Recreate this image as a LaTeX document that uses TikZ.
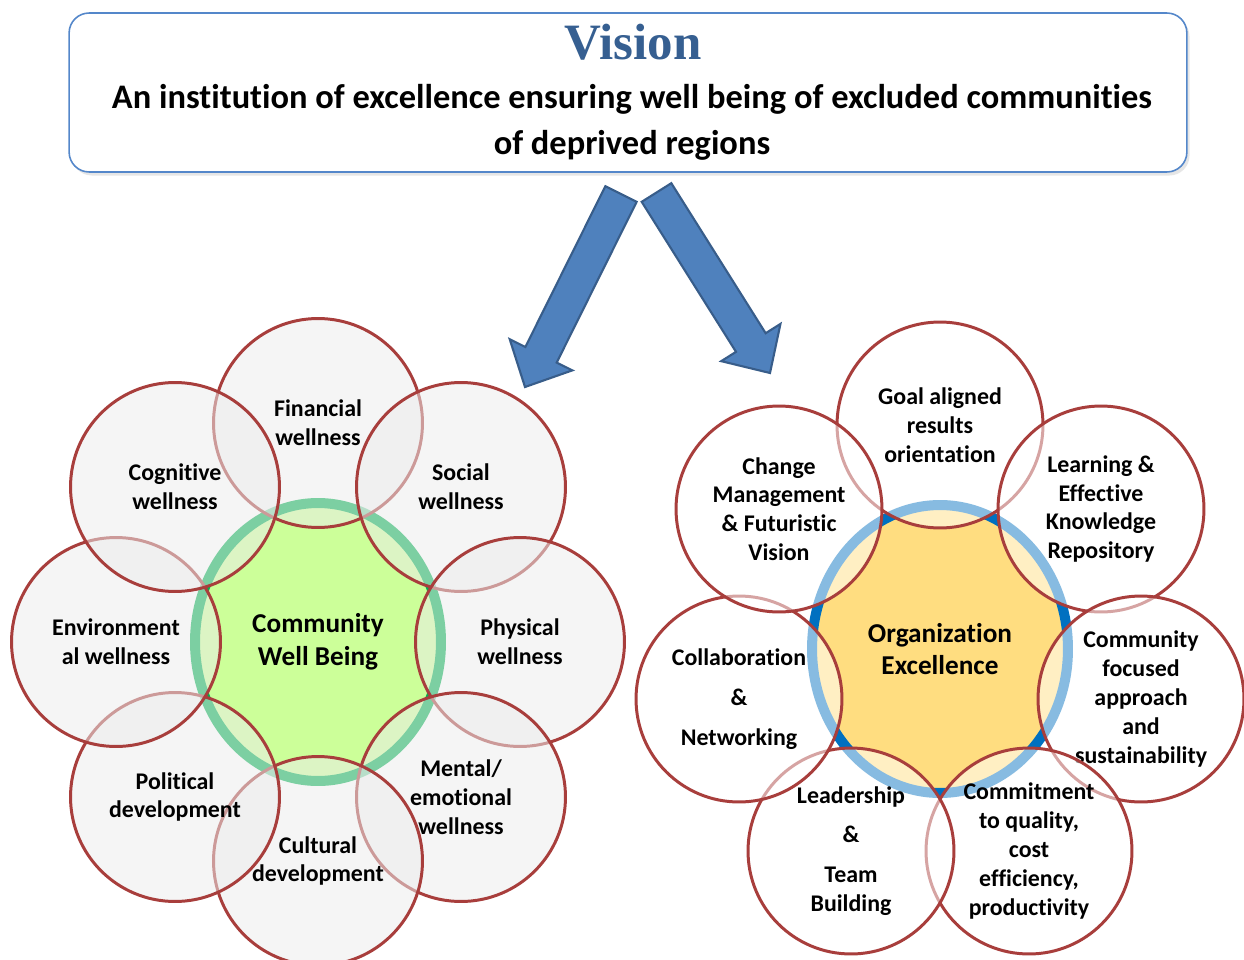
\documentclass[tikz,border=0pt]{standalone}
\usepackage{fontspec}
\setmainfont{Carlito}[Ligatures=NoCommon]
\newfontfamily\titlefont{Liberation Serif}
\usetikzlibrary{shapes.geometric,calc,shadows}

\definecolor{petalred}{RGB}{168,62,60}
\definecolor{petalgray}{RGB}{236,236,236}
\definecolor{wellgreen}{RGB}{204,255,153}
\definecolor{wellring}{RGB}{0,176,80}
\definecolor{orgyellow}{RGB}{255,221,128}
\definecolor{orgring}{RGB}{0,112,192}
\definecolor{arrowblue}{RGB}{79,129,189}
\definecolor{arrowedge}{RGB}{56,93,138}
\definecolor{boxblue}{RGB}{84,135,202}
\definecolor{visionblue}{RGB}{54,95,145}

\tikzset{
  petal/.style={circle, draw=petalred, line width=1.7pt, fill opacity=0.53,
    text opacity=1, inner sep=0pt, align=center,
    font=\fontsize{13.6}{16.4}\selectfont\bfseries},
  leftpetal/.style={petal, fill=petalgray, minimum size=4.18cm},
  rightpetal/.style={petal, fill=white, minimum size=4.12cm},
  hub/.style={ellipse, inner sep=0pt, line width=5.7pt, align=center,
    font=\fontsize{15.5}{18.7}\selectfont\bfseries},
  bigarrow/.style={fill=arrowblue, draw=arrowedge, line width=1.2pt, line join=miter},
}

% block arrow from #1 (tail) to #2 (tip)
\newcommand{\blockarrow}[2]{%
  \coordinate (#2-base) at ($(#2)!0.72cm!(#1)$);
  \draw[bigarrow] ($(#1)!0.35cm!90:(#2)$) -- ($(#2-base)!0.35cm!-90:(#1)$)
    -- ($(#2-base)!0.7cm!-90:(#1)$) -- (#2) -- ($(#2-base)!0.7cm!90:(#1)$)
    -- ($(#2-base)!0.35cm!90:(#1)$) -- ($(#1)!0.35cm!-90:(#2)$) -- cycle;
}

\begin{document}
\begin{tikzpicture}[x=0.02cm, y=-0.02cm]
  \useasboundingbox (0,0) rectangle (1244,960);

  % vision
  \node[draw=boxblue, line width=0.9pt, rounded corners=0.4cm, fill=white,
    minimum width=22.36cm, minimum height=3.18cm,
    drop shadow={shadow xshift=1.5pt, shadow yshift=-2pt, opacity=0.2}] (vbox) at (628,92.5) {};
  \node[font=\titlefont\fontsize{29}{31}\selectfont\bfseries, text=visionblue] (vtitle) at (633,42) {Vision};
  \node[font=\fontsize{19.6}{26}\selectfont\bfseries, align=center] (vtext) at (632,122)
    {An institution of excellence ensuring well being of excluded communities\\of deprived regions};

  % arrows
  \coordinate (tailL) at (621,194);
  \coordinate (tipL) at (525,387);
  \coordinate (tailR) at (656.5,192.5);
  \coordinate (tipR) at (770,373);
  \blockarrow{tailL}{tipL}
  \blockarrow{tailR}{tipR}

  % community well being
  \node[hub, fill=wellgreen, draw=wellring, minimum width=4.92cm, minimum height=5.56cm] (cwb) at (318,642) {Community\\Well Being};
  \node[leftpetal] (fin) at (318,423) {Financial\\wellness};
  \node[leftpetal] (soc) at (461,487) {Social\\wellness};
  \node[leftpetal] (phy) at (520,642) {Physical\\wellness};
  \node[leftpetal] (men) at (461,797) {Mental/\\emotional\\wellness};
  \node[leftpetal] (cul) at (318,861) {Cultural\\development};
  \node[leftpetal] (pol) at (175,797) {Political\\development};
  \node[leftpetal] (env) at (116,642) {Environment\\al wellness};
  \node[leftpetal] (cog) at (175,487) {Cognitive\\wellness};

  % organization excellence
  \node[hub, fill=orgyellow, draw=orgring, minimum width=5.12cm, minimum height=5.76cm] (oe) at (940,649) {Organization\\Excellence};
  \node[rightpetal] (goal) at (940,425) {Goal aligned\\results\\orientation};
  \node[rightpetal] (learn) at (1101,509) {Learning \&\\Effective\\Knowledge\\Repository};
  \node[rightpetal] (focus) at (1141,699) {Community\\focused\\approach\\and\\sustainability};
  \node[rightpetal] (commit) at (1029,851) {Commitment\\to quality,\\cost\\efficiency,\\productivity};
  \node[rightpetal] (lead) at (851,851) {Leadership\\[6.3pt]\&\\[6.3pt]Team\\Building};
  \node[rightpetal] (collab) at (739,699) {Collaboration\\[6.3pt]\&\\[6.3pt]Networking};
  \node[rightpetal] (change) at (779,509) {Change\\Management\\\& Futuristic\\Vision};
\end{tikzpicture}
\end{document}
